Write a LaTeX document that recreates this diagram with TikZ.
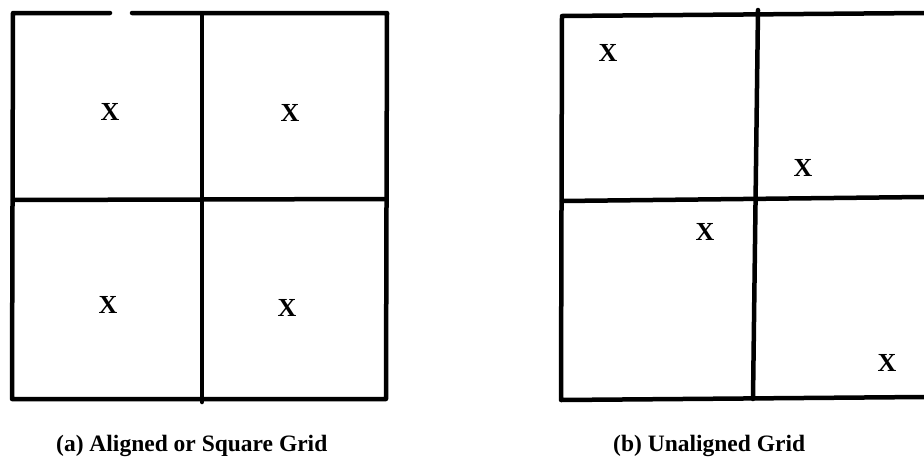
\documentclass[tikz,border=0pt]{standalone}
\usepackage{fontspec}
\setmainfont{Liberation Serif}
\begin{document}
\begin{tikzpicture}[x=1pt,y=-1pt,
  gridline/.style={line width=4.5pt,line cap=round,line join=round},
  xmark/.style={font=\fontsize{26}{26}\selectfont\bfseries,inner sep=0pt},
  caption/.style={font=\fontsize{23.5}{23.5}\selectfont\bfseries,inner sep=0pt,anchor=base west}]
\useasboundingbox (0,0) rectangle (924,461);
% (a) aligned grid
\draw[gridline] (110,13) -- (13,13) -- (12,399) -- (386,399) -- (387,13) -- (132,13);
\draw[gridline] (202,14) -- (202,402);
\draw[gridline] (13,200) -- (386,199);
% (b) unaligned grid
\draw[gridline] (924,13) -- (562,16) -- (561,400) -- (924,397);
\draw[gridline] (758,10) -- (753,399);
\draw[gridline] (562,201) -- (924,197);
% marks
\node[xmark] (a1) at (110,112) {X};
\node[xmark] (a2) at (290,113) {X};
\node[xmark] (a3) at (108,305) {X};
\node[xmark] (a4) at (287,308) {X};
\node[xmark] (b1) at (608,53) {X};
\node[xmark] (b2) at (803,168) {X};
\node[xmark] (b3) at (705,232) {X};
\node[xmark] (b4) at (887,363) {X};
% captions
\node[caption] (capa) at (56,451) {(a) Aligned or Square Grid};
\node[caption] (capb) at (613,451) {(b) Unaligned Grid};
\end{tikzpicture}
\end{document}
